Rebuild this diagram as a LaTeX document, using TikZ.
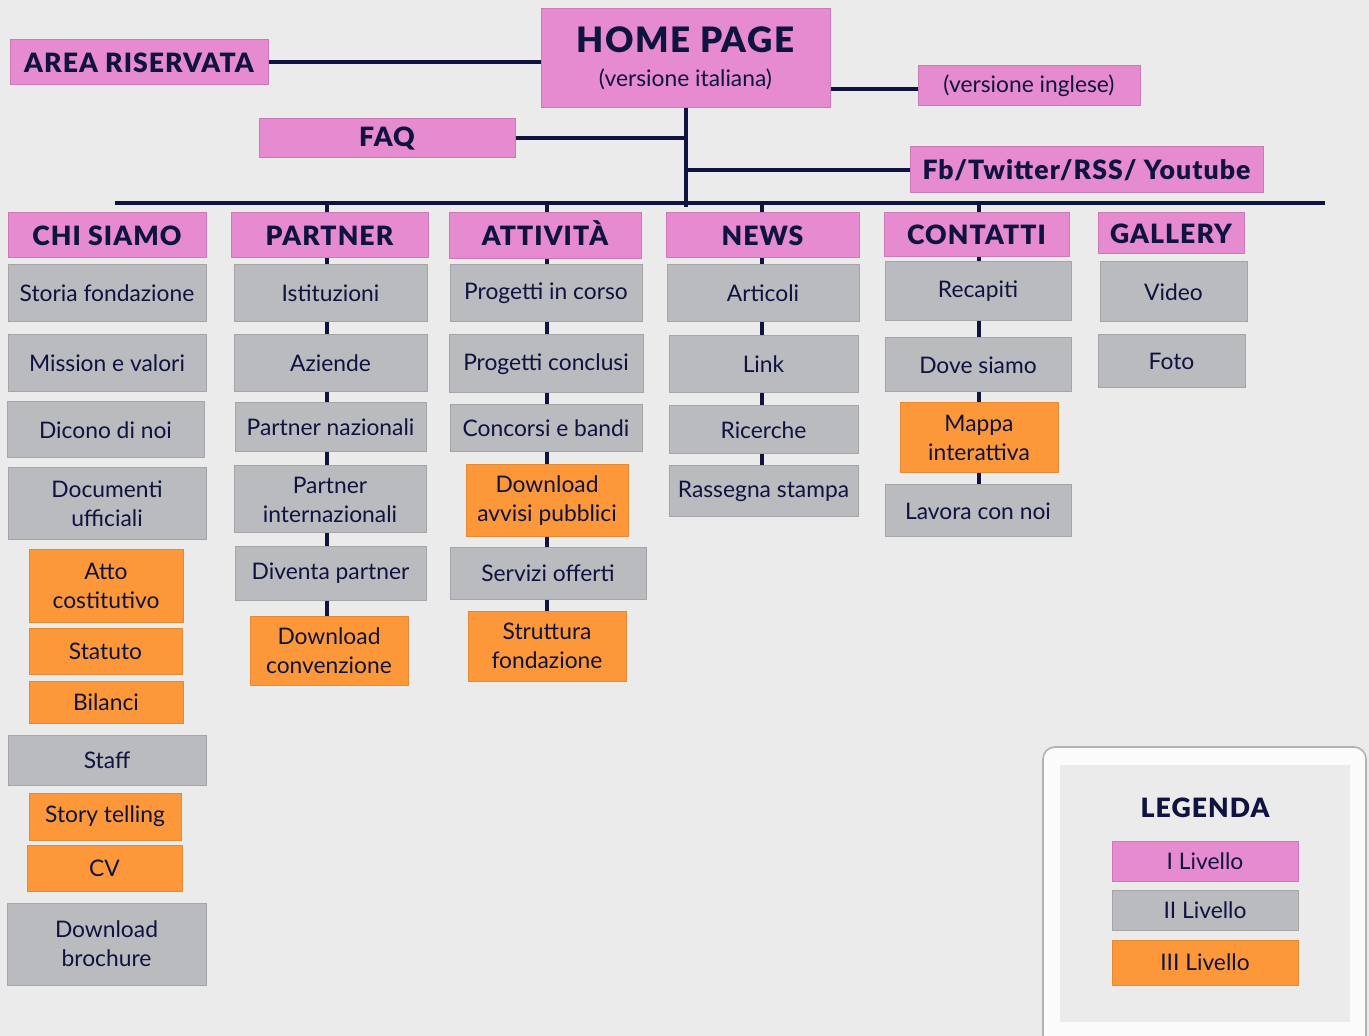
\documentclass[tikz,border=0pt]{standalone}
\usepackage{fontspec}
\setmainfont{Lato}
\IfFontExistsTF{Lato Black}
  {\newfontfamily\headfont{Lato Black}[LetterSpace=4]}
  {\newfontfamily\headfont{Lato}[UprightFont=*-Bold, LetterSpace=4]}
\usetikzlibrary{calc}

\definecolor{bgcol}{RGB}{235,235,235}
\definecolor{pinkbox}{RGB}{231,139,208}
\definecolor{graybox}{RGB}{185,187,190}
\definecolor{orangebox}{RGB}{253,152,58}
\definecolor{navy}{RGB}{14,19,64}

\tikzset{
  box/.style={draw, line width=0.5pt, inner sep=0pt, align=center, text=navy,
    font=\fontsize{11.4}{14.5}\selectfont},
  livI/.style={box, fill=pinkbox, draw=pinkbox!88!black,
    font=\fontsize{13.3}{15}\selectfont\headfont},
  livII/.style={box, fill=graybox, draw=graybox!88!black},
  livIII/.style={box, fill=orangebox, draw=orangebox!90!black},
  conn/.style={draw=navy, line width=2pt},
}

% box from its corners in pixels: name, style, x1, y1, x2, y2, text
\newcommand{\pbox}[7]{%
  \node[#2, minimum width={(#5-#3)*0.5pt}, minimum height={(#6-#4)*0.5pt}]
    (#1) at ({(#3+#5)/2},{(#4+#6)/2}) {#7};}

\begin{document}
\begin{tikzpicture}[x=0.5pt, y=-0.5pt]
  \useasboundingbox (0,0) rectangle (1369,1036);
  \clip (0,0) rectangle (1369,1036);
  \fill[bgcol] (0,0) rectangle (1369,1036);

  % home page and side pages
  \pbox{home}{livI}{541}{9}{830}{108}{{\fontsize{17.5}{20}\selectfont HOME PAGE}\\[2pt]
    {\fontsize{11.4}{13}\selectfont\normalfont (versione italiana)}}
  \pbox{area}{livI}{10}{40}{268}{85}{AREA RISERVATA}
  \pbox{ing}{livI, font=\fontsize{11.4}{13}\selectfont}{918}{66}{1140}{106}{(versione inglese)}
  \pbox{faq}{livI}{259}{119}{515}{158}{FAQ}
  \pbox{social}{livI}{910}{147}{1263}{193}{Fb/Twitter/RSS/ Youtube}

  \coordinate (barL) at (115,203);
  \coordinate (barR) at (1325,203);
  \coordinate (cH) at (685.5,207);
  \coordinate (cP) at (327,203);
  \coordinate (cA) at (547,203);
  \coordinate (cN) at (762,203);
  \coordinate (cC) at (979,203);

  \draw[conn] (area.east) -- (area.east -| home.west);
  \draw[conn] (ing.west |- 0,89) -- (home.east |- 0,89);
  \draw[conn] (home.south) -- (cH);
  \draw[conn] (faq.east) -- (faq.east -| home.south);
  \draw[conn] (social.west) -- (social.west -| home.south);
  \draw[conn] (barL) -- (barR);

  % first level
  \pbox{hS}{livI}{8}{213}{206}{258}{CHI SIAMO}
  \pbox{hP}{livI}{231}{213}{428}{258}{PARTNER}
  \pbox{hA}{livI}{449}{213}{641}{259}{ATTIVIT\smash{À}}
  \pbox{hN}{livI}{666}{213}{859}{258}{NEWS}
  \pbox{hC}{livI}{884}{213}{1069}{257}{CONTATTI}
  \pbox{hG}{livI}{1098}{213}{1244}{254}{GALLERY}

  % chi siamo
  \pbox{s1}{livII}{8}{265}{206}{322}{Storia fondazione}
  \pbox{s2}{livII}{8}{335}{206}{392}{Mission e valori}
  \pbox{s3}{livII}{7}{402}{204}{458}{Dicono di noi}
  \pbox{s4}{livII}{8}{468}{206}{540}{Documenti\\ufficiali}
  \pbox{s5}{livIII}{29}{550}{183}{622}{Atto\\costitutivo}
  \pbox{s6}{livIII}{29}{628}{182}{674}{Statuto}
  \pbox{s7}{livIII}{29}{681}{183}{723}{Bilanci}
  \pbox{s8}{livII}{8}{735}{206}{785}{Staff}
  \pbox{s9}{livIII}{29}{793}{181}{840}{Story telling}
  \pbox{s10}{livIII}{27}{845}{182}{891}{CV}
  \pbox{s11}{livII}{7}{903}{206}{985}{Download\\brochure}

  % partner
  \pbox{p1}{livII}{234}{265}{427}{322}{Istituzioni}
  \pbox{p2}{livII}{234}{335}{427}{392}{Aziende}
  \pbox{p3}{livII}{235}{403}{426}{452}{Partner nazionali}
  \pbox{p4}{livII}{234}{466}{426}{533}{Partner\\internazionali}
  \pbox{p5}{livII}{235}{547}{426}{600}{Diventa partner}
  \pbox{p6}{livIII}{250}{616}{408}{685}{Download\\convenzione}

  % attivita
  \pbox{a1}{livII}{450}{265}{642}{322}{Progetti in corso}
  \pbox{a2}{livII}{449}{335}{643}{393}{Progetti conclusi}
  \pbox{a3}{livII}{450}{405}{642}{452}{Concorsi e bandi}
  \pbox{a4}{livIII}{466}{465}{628}{537}{Download\\avvisi pubblici}
  \pbox{a5}{livII}{450}{548}{646}{599}{Servizi offerti}
  \pbox{a6}{livIII}{468}{611}{626}{681}{Struttura\\fondazione}

  % news
  \pbox{n1}{livII}{667}{265}{859}{322}{Articoli}
  \pbox{n2}{livII}{669}{336}{858}{393}{Link}
  \pbox{n3}{livII}{669}{406}{858}{454}{Ricerche}
  \pbox{n4}{livII}{669}{466}{858}{517}{Rassegna stampa}

  % contatti
  \pbox{c1}{livII}{885}{262}{1071}{321}{Recapiti}
  \pbox{c2}{livII}{885}{338}{1071}{392}{Dove siamo}
  \pbox{c3}{livIII}{900}{403}{1058}{473}{Mappa\\interattiva}
  \pbox{c4}{livII}{885}{485}{1071}{537}{Lavora con noi}

  % gallery
  \pbox{g1}{livII}{1100}{262}{1247}{322}{Video}
  \pbox{g2}{livII}{1098}{335}{1245}{388}{Foto}

  % column connectors
  \draw[conn] (cP) -- (hP.north -| cP);
  \draw[conn] (cA) -- (hA.north -| cA);
  \draw[conn] (cN) -- (hN.north -| cN);
  \draw[conn] (cC) -- (hC.north -| cC);
  \foreach \a/\b in {hP/p1, p1/p2, p2/p3, p3/p4, p4/p5, p5/p6}
    \draw[conn] (\a.south -| cP) -- (\b.north -| cP);
  \foreach \a/\b in {hA/a1, a1/a2, a2/a3, a3/a4, a4/a5, a5/a6}
    \draw[conn] (\a.south -| cA) -- (\b.north -| cA);
  \foreach \a/\b in {hN/n1, n1/n2, n2/n3, n3/n4}
    \draw[conn] (\a.south -| cN) -- (\b.north -| cN);
  \foreach \a/\b in {hC/c1, c1/c2, c2/c3, c3/c4}
    \draw[conn] (\a.south -| cC) -- (\b.north -| cC);

  % legend
  \draw[draw=gray!60, fill=white!97!gray, line width=0.8pt, rounded corners=6]
    (1043,747) rectangle (1366,1060);
  \fill[bgcol] (1060,765) rectangle (1350,1022);
  \node[text=navy, font=\fontsize{13.3}{15}\selectfont\headfont] (legenda) at (1205,808) {LEGENDA};
  \pbox{legI}{livI, font=\fontsize{11.4}{13}\selectfont}{1112}{841}{1298}{881}{I Livello}
  \pbox{legII}{livII}{1112}{890}{1298}{930}{II Livello}
  \pbox{legIII}{livIII}{1112}{940}{1298}{985}{III Livello}
\end{tikzpicture}
\end{document}
